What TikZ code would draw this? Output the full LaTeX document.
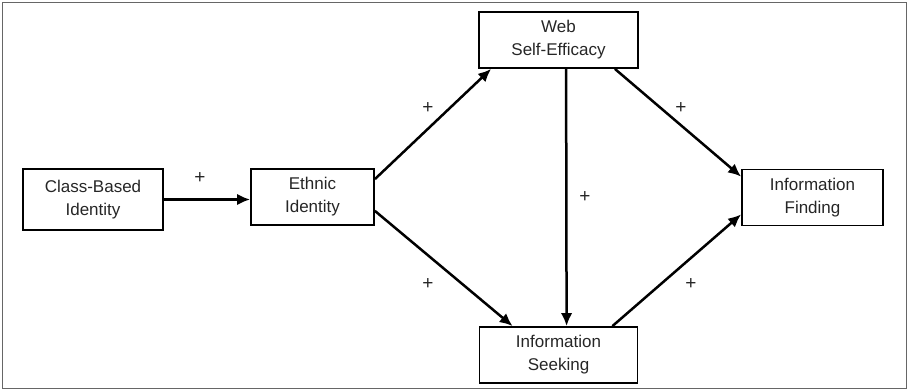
\documentclass[tikz,border=0pt]{standalone}
\usepackage{fontspec}
\setmainfont{Liberation Sans}
\usetikzlibrary{arrows.meta,calc}
\begin{document}
\begin{tikzpicture}[x=1bp,y=-1bp,
  box/.style={draw=black,line width=1.8bp,rectangle,align=center,inner sep=0pt,
    font=\fontsize{17bp}{23bp}\selectfont,text=black!85},
  conn/.style={draw=black,line width=2.5bp,-{Latex[length=13bp,width=11.5bp]}},
  plus/.style={font=\fontsize{19bp}{19bp}\selectfont,text=black!85,inner sep=0pt}]
\useasboundingbox (0,0) rectangle (909,390);
\draw[black!60,line width=1.2bp] (2.5,2.5) rectangle (906.5,388.5);
\node[box,minimum width=140bp,minimum height=61bp] (cls) at (93,199.5) {Class-Based\\Identity};
\node[box,minimum width=123bp,minimum height=56bp] (eth) at (312.5,197) {Ethnic\\Identity};
\node[box,minimum width=159bp,minimum height=56bp] (web) at (558.5,40) {Web\\Self-Efficacy};
\node[box,minimum width=141bp,minimum height=56bp] (fin) at (812.5,197.5) {Information\\Finding};
\node[box,minimum width=158bp,minimum height=56bp] (seek) at (558.5,355) {Information\\Seeking};
\draw[conn] (cls.east) -- (cls.east -| eth.west);
\draw[conn] ($(eth.north east)+(0,11)$) -- ($(web.south west)+(13,0)$);
\draw[conn] ($(eth.south east)+(0,-15)$) -- ($(seek.north west)+(34,0)$);
\draw[conn] ($(web.south west)+(88,0)$) -- ($(seek.north west)+(88,0)$);
\draw[conn] ($(web.south east)+(-24,0)$) -- ($(fin.north west)+(0,8)$);
\draw[conn] ($(seek.north east)+(-26,0)$) -- ($(fin.south west)+(0,-12)$);
\node[plus] (p1) at (200,178) {+};
\node[plus] (p2) at (428,108) {+};
\node[plus] (p3) at (681,108) {+};
\node[plus] (p4) at (585,197) {+};
\node[plus] (p5) at (428,284) {+};
\node[plus] (p6) at (691,284) {+};
\end{tikzpicture}
\end{document}
